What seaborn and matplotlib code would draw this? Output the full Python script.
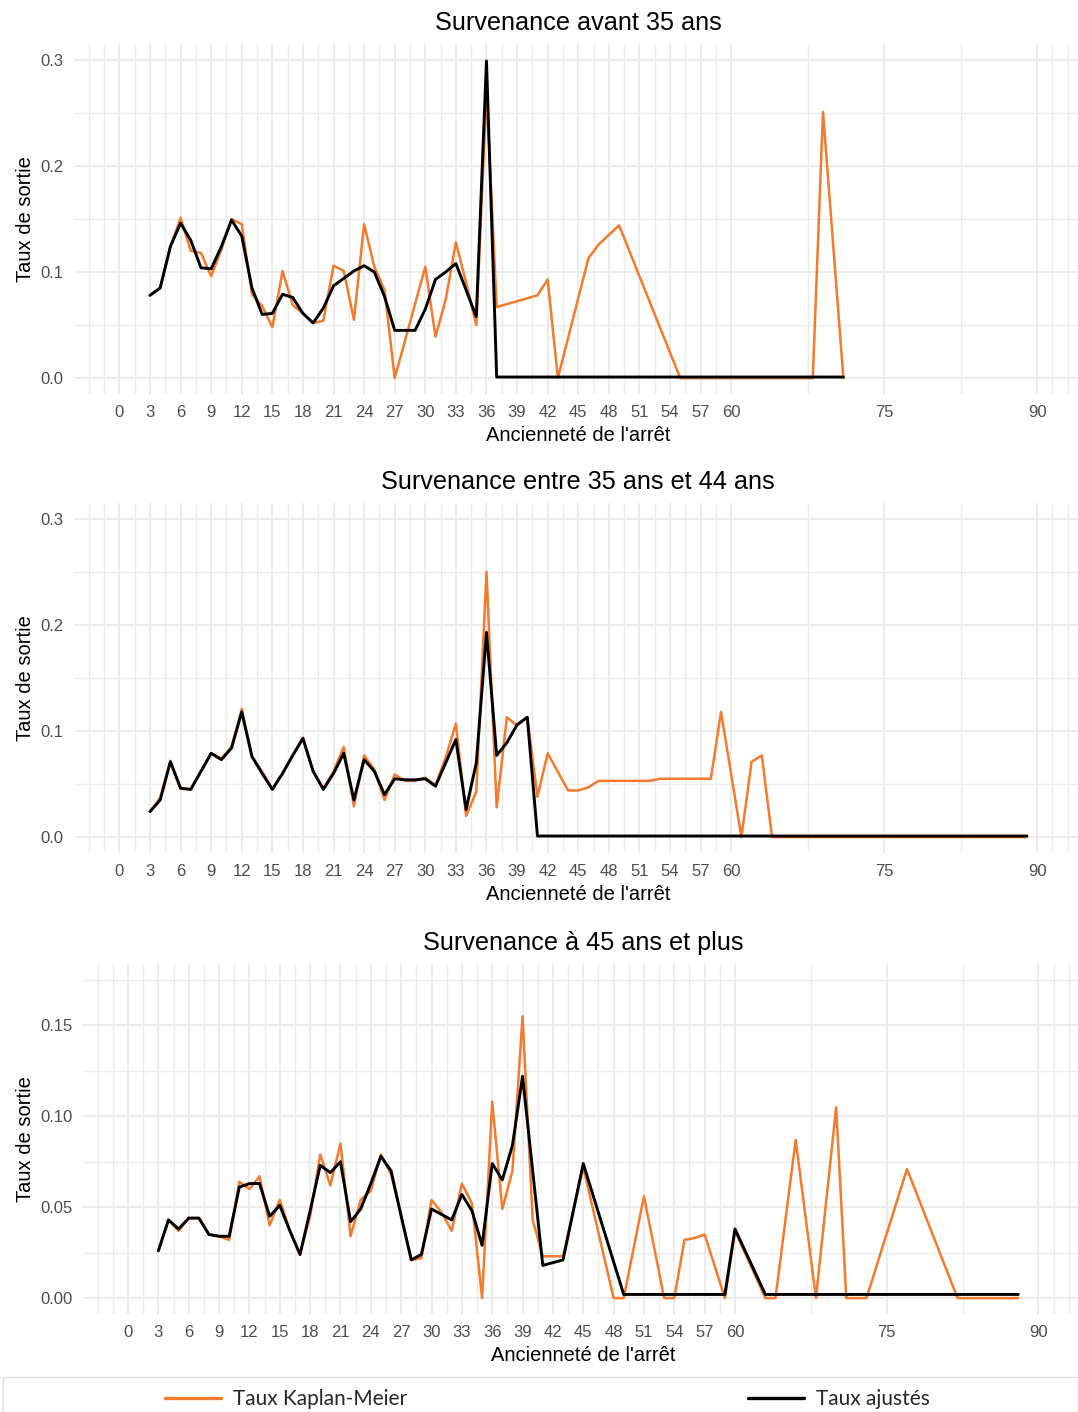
import numpy as np
import pandas as pd
import matplotlib
matplotlib.use("Agg")
import matplotlib.pyplot as plt
from matplotlib.patches import Rectangle
import seaborn as sns

# ---------------- data ----------------
titles = ["Survenance avant 35 ans", "Survenance entre 35 ans et 44 ans", "Survenance à 45 ans et plus"]
x_label = "Ancienneté de l'arrêt"
y_label = "Taux de sortie"
series_names = ["Taux Kaplan-Meier", "Taux ajustés"]

x_ticks = [0, 3, 6, 9, 12, 15, 18, 21, 24, 27, 30, 33, 36, 39, 42, 45, 48, 51, 54, 57, 60, 75, 90]

# Panel 1 : avant 35 ans
km1_x = list(range(3, 38)) + [41, 42, 43, 46, 47, 48, 49, 55, 68, 69, 71]
km1_y = [0.078, 0.085, 0.124, 0.151, 0.120, 0.118, 0.096, 0.121, 0.150, 0.145,
         0.079, 0.068, 0.048, 0.101, 0.069, 0.061, 0.052, 0.054, 0.106, 0.101,
         0.055, 0.145, 0.105, 0.083, 0.000, 0.035, 0.070, 0.105, 0.039, 0.074,
         0.128, 0.090, 0.050, 0.270, 0.067,
         0.078, 0.093, 0.000, 0.113, 0.126, 0.135, 0.144, 0.000, 0.000, 0.251, 0.000]
adj1_x = list(range(3, 38)) + [71]
adj1_y = [0.078, 0.085, 0.124, 0.146, 0.130, 0.104, 0.103, 0.124, 0.149, 0.134,
          0.085, 0.060, 0.061, 0.079, 0.076, 0.061, 0.052, 0.066, 0.087, 0.094,
          0.101, 0.106, 0.100, 0.077, 0.045, 0.045, 0.045, 0.065, 0.093, 0.100,
          0.108, 0.083, 0.058, 0.299, 0.001, 0.001]

# Panel 2 : entre 35 et 44 ans
km2_x = list(range(3, 41)) + [41, 42, 44, 45, 46, 47, 52, 53, 58, 59, 61, 62, 63, 64, 89]
km2_y = [0.024, 0.037, 0.072, 0.046, 0.045, 0.062, 0.079, 0.074, 0.085, 0.121,
         0.076, 0.062, 0.045, 0.060, 0.077, 0.094, 0.062, 0.046, 0.062, 0.085,
         0.029, 0.077, 0.064, 0.035, 0.059, 0.053, 0.053, 0.056, 0.049, 0.075,
         0.107, 0.020, 0.043, 0.250, 0.028, 0.113, 0.105, 0.113,
         0.038, 0.079, 0.044, 0.044, 0.047, 0.053, 0.053, 0.055, 0.055, 0.118,
         0.000, 0.071, 0.077, 0.000, 0.000]
adj2_x = list(range(3, 42)) + [89]
adj2_y = [0.024, 0.035, 0.071, 0.046, 0.045, 0.062, 0.079, 0.073, 0.084, 0.118,
          0.076, 0.060, 0.045, 0.060, 0.077, 0.093, 0.062, 0.045, 0.060, 0.079,
          0.035, 0.073, 0.062, 0.040, 0.055, 0.054, 0.054, 0.055, 0.048, 0.070,
          0.092, 0.026, 0.070, 0.193, 0.077, 0.089, 0.106, 0.113, 0.001, 0.001]

# Panel 3 : 45 ans et plus
km3_x = list(range(3, 44)) + [45, 48, 49, 51, 53, 54, 55, 56, 57, 59, 60, 63, 64,
                              66, 68, 70, 71, 73, 77, 82, 88]
km3_y = [0.026, 0.043, 0.037, 0.044, 0.044, 0.035, 0.034, 0.032, 0.064, 0.060,
         0.067, 0.040, 0.054, 0.037, 0.024, 0.045, 0.079, 0.062, 0.085, 0.034,
         0.054, 0.059, 0.079, 0.068, 0.046, 0.021, 0.022, 0.054, 0.047, 0.037,
         0.063, 0.052, 0.000, 0.108, 0.049, 0.070, 0.155, 0.043, 0.023, 0.023,
         0.023,
         0.072, 0.000, 0.000, 0.056, 0.000, 0.000, 0.032, 0.033, 0.035, 0.000,
         0.037, 0.000, 0.000, 0.087, 0.000, 0.105, 0.000, 0.000, 0.071, 0.000, 0.000]
adj3_x = list(range(3, 40)) + [41, 43, 45, 49, 59, 60, 63, 88]
adj3_y = [0.026, 0.043, 0.038, 0.044, 0.044, 0.035, 0.034, 0.034, 0.061, 0.063,
          0.063, 0.045, 0.051, 0.037, 0.024, 0.048, 0.073, 0.069, 0.075, 0.042,
          0.049, 0.063, 0.078, 0.070, 0.045, 0.021, 0.024, 0.049, 0.046, 0.043,
          0.057, 0.048, 0.029, 0.074, 0.065, 0.084, 0.122,
          0.018, 0.021, 0.074, 0.002, 0.002, 0.038, 0.002, 0.002]

panels = [
    (km1_x, km1_y, adj1_x, adj1_y),
    (km2_x, km2_y, adj2_x, adj2_y),
    (km3_x, km3_y, adj3_x, adj3_y),
]

# ---------------- style ----------------
sns.set_theme(style="white")
plt.rcParams['font.family'] = ['Liberation Sans', 'DejaVu Sans']

ORANGE = "#F47A2E"
BLACK = "#000000"
GRID = "#EBEBEB"
TICKCOL = "#4D4D4D"

fig = plt.figure(figsize=(10.78, 14.12), dpi=100)
W, H = 1078.0, 1412.0

def px_axes(left, right, top, bottom):
    return [left / W, 1 - bottom / H, (right - left) / W, (bottom - top) / H]

positions = [
    px_axes(73.5, 1083, 44, 394),
    px_axes(73.5, 1083, 503, 853),
    px_axes(82.5, 1084, 964, 1314),
]

y_settings = [
    dict(lim=(-0.015, 0.315), major=[0, 0.1, 0.2, 0.3], minor=[0.05, 0.15, 0.25], fmt="{:.1f}"),
    dict(lim=(-0.015, 0.315), major=[0, 0.1, 0.2, 0.3], minor=[0.05, 0.15, 0.25], fmt="{:.1f}"),
    dict(lim=(-0.00875, 0.18375), major=[0, 0.05, 0.10, 0.15], minor=[0.025, 0.075, 0.125, 0.175], fmt="{:.2f}"),
]

minor_x = [-3, -1.5] + [t + 1.5 for t in range(0, 60, 3)] + [67.5, 82.5, 91.5, 93]

handles = None
for i, (kx, ky, ax_, ay_) in enumerate(panels):
    ax = fig.add_axes(positions[i])
    df_km = pd.DataFrame({"x": kx, "y": ky})
    df_adj = pd.DataFrame({"x": ax_, "y": ay_})
    sns.lineplot(data=df_km, x="x", y="y", ax=ax, color=ORANGE, linewidth=1.8,
                 estimator=None, label=series_names[0], zorder=3)
    sns.lineplot(data=df_adj, x="x", y="y", ax=ax, color=BLACK, linewidth=2.1,
                 estimator=None, label=series_names[1], zorder=4)
    h, l = ax.get_legend_handles_labels()
    if handles is None:
        handles = (h, l)
    ax.get_legend().remove()

    ys = y_settings[i]
    ax.set_xlim(-4.5, 94.5)
    ax.set_ylim(*ys["lim"])
    ax.set_xticks(x_ticks)
    ax.set_xticklabels([str(t) for t in x_ticks])
    ax.set_xticks(minor_x, minor=True)
    ax.set_yticks(ys["major"])
    ax.set_yticklabels([ys["fmt"].format(v) for v in ys["major"]])
    ax.set_yticks(ys["minor"], minor=True)
    ax.grid(True, which="major", color=GRID, linewidth=1.3)
    ax.grid(True, which="minor", color=GRID, linewidth=1.0)
    ax.set_axisbelow(True)
    for s in ax.spines.values():
        s.set_visible(False)
    ax.tick_params(axis="both", which="both", length=0, labelsize=12, labelcolor=TICKCOL)
    ax.tick_params(axis="x", pad=8)
    ax.tick_params(axis="y", pad=7)
    ax.set_xlabel(x_label, fontsize=14.5, color="black", labelpad=4)
    ax.set_ylabel(y_label, fontsize=14.5, color="black", labelpad=4)
    ax.set_title(titles[i], fontsize=18.2, color="black", pad=10)

# legend box
fig.add_artist(Rectangle((3 / W, -0.01), (W - 3) / W, (1412 - 1377) / H + 0.01,
                         transform=fig.transFigure, fill=False,
                         edgecolor="#E0E0E0", linewidth=1.0))
hs, ls = handles
for hnd, lab, xpx in zip(hs, ls, [165, 748]):
    leg = fig.legend([hnd], [lab], loc="center left",
                     bbox_to_anchor=(xpx / W, 1 - 1399 / H),
                     frameon=False, borderpad=0, borderaxespad=0,
                     handlelength=2.7, handletextpad=0.55,
                     prop={"family": ["Lato", "DejaVu Sans"], "size": 15})
    for ln in leg.get_lines():
        ln.set_linewidth(2.4)

fig.savefig("out.png", dpi=100)
